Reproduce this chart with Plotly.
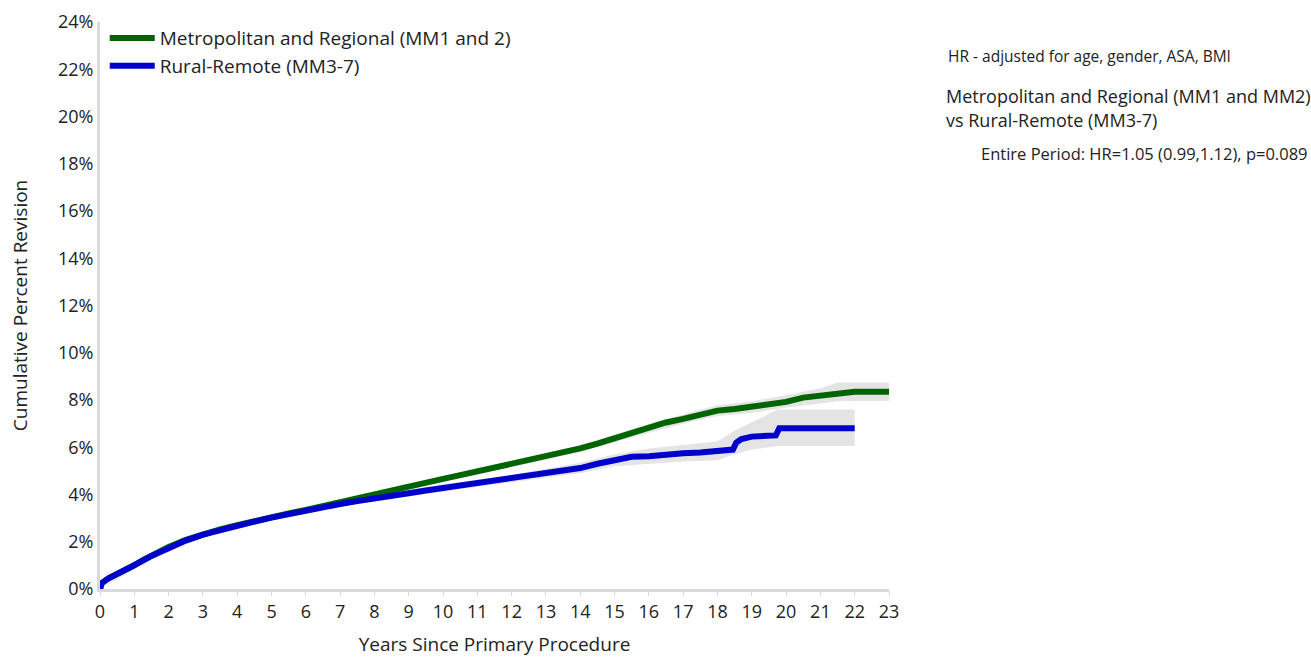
import plotly.graph_objects as go

# ---- data ----
metro_x = [0, 0.05, 0.25, 0.5, 0.75, 1, 1.25, 1.5, 2, 2.5, 3, 3.5, 4, 4.5, 5, 5.5, 6, 6.5, 7, 7.5,
           8, 8.5, 9, 9.5, 10, 10.5, 11, 11.5, 12, 12.5, 13, 13.5, 14, 14.5, 15, 15.5, 16, 16.5,
           17, 17.5, 18, 18.5, 19, 19.5, 20, 20.5, 21, 21.5, 22, 23]
metro_y = [0, 0.25, 0.45, 0.62, 0.8, 1.0, 1.22, 1.42, 1.78, 2.08, 2.33, 2.52, 2.7, 2.88, 3.05, 3.2,
           3.35, 3.52, 3.7, 3.85, 4.02, 4.18, 4.35, 4.5, 4.66, 4.82, 4.98, 5.13, 5.28, 5.44, 5.62,
           5.78, 5.95, 6.15, 6.38, 6.58, 6.8, 7.05, 7.2, 7.38, 7.55, 7.62, 7.7, 7.8, 7.92, 8.1, 8.18,
           8.3, 8.35, 8.35]

rural_x = [0, 0.05, 0.25, 0.5, 0.75, 1, 1.25, 1.5, 2, 2.5, 3, 3.5, 4, 4.5, 5, 5.5, 6, 6.5, 7, 7.5,
           8, 8.5, 9, 9.5, 10, 10.5, 11, 11.5, 12, 12.5, 13, 13.5, 14, 14.5, 15, 15.5, 16, 16.5,
           17, 17.5, 18, 18.45, 18.55, 18.7, 19.0, 19.7, 19.8, 22]
rural_y = [0, 0.25, 0.45, 0.62, 0.8, 0.98, 1.2, 1.4, 1.75, 2.05, 2.3, 2.5, 2.67, 2.85, 3.02, 3.18,
           3.32, 3.47, 3.6, 3.72, 3.85, 3.95, 4.05, 4.17, 4.28, 4.37, 4.48, 4.57, 4.68, 4.8, 4.9,
           5.0, 5.12, 5.3, 5.45, 5.6, 5.62, 5.7, 5.75, 5.78, 5.82, 5.9, 6.2, 6.35, 6.45, 6.5, 6.8, 6.8]

metro_ci_x = [0, 2, 4, 6, 8, 10, 12, 14, 15, 16, 17, 18, 19, 20, 21, 21.5, 22, 23]
metro_ci_lo = [0, 1.72, 2.64, 3.28, 3.94, 4.57, 5.17, 5.8, 6.22, 6.62, 7.0, 7.32, 7.45, 7.68, 7.85, 7.95, 7.97, 7.97]
metro_ci_hi = [0, 1.84, 2.76, 3.42, 4.1, 4.75, 5.4, 6.1, 6.55, 6.98, 7.4, 7.78, 7.95, 8.2, 8.5, 8.74, 8.74, 8.74]

rural_ci_x = [0, 2, 4, 6, 8, 10, 12, 14, 15, 16, 17, 18, 18.5, 19, 19.75, 22]
rural_ci_lo = [0, 1.68, 2.6, 3.24, 3.74, 4.14, 4.52, 4.9, 5.2, 5.3, 5.4, 5.45, 5.7, 5.9, 6.05, 6.05]
rural_ci_hi = [0, 1.82, 2.74, 3.4, 3.96, 4.42, 4.84, 5.34, 5.7, 5.95, 6.1, 6.25, 6.7, 7.05, 7.6, 7.6]

series_names = ["Metropolitan and Regional (MM1 and 2)", "Rural-Remote (MM3-7)"]
y_ticks = list(range(0, 25, 2))
y_tick_text = [f"{v}%" for v in y_ticks]
x_ticks = list(range(0, 24))

GREEN = "#006400"
BLUE = "#0000CD"
BAND = "rgba(205,205,205,0.55)"
AXIS = "#d9d9d9"
FONT = "Open Sans"
TXT = "#222222"

fig = go.Figure()

for cx, lo, hi in [(metro_ci_x, metro_ci_lo, metro_ci_hi), (rural_ci_x, rural_ci_lo, rural_ci_hi)]:
    fig.add_trace(go.Scatter(x=cx + cx[::-1], y=hi + lo[::-1], fill="toself", fillcolor=BAND,
                             line=dict(width=0), mode="lines", hoverinfo="skip", showlegend=False))

fig.add_trace(go.Scatter(x=metro_x, y=metro_y, mode="lines", name=series_names[0],
                         line=dict(color=GREEN, width=6)))
fig.add_trace(go.Scatter(x=rural_x, y=rural_y, mode="lines", name=series_names[1],
                         line=dict(color=BLUE, width=6)))

fig.update_layout(
    width=1311, height=657,
    margin=dict(l=100, r=422, t=22, b=68, autoexpand=False),
    paper_bgcolor="white", plot_bgcolor="white",
    font=dict(family=FONT, size=18, color=TXT),
    showlegend=True,
    legend=dict(x=0.006, y=1.005, xanchor="left", yanchor="top", bgcolor="rgba(0,0,0,0)",
                font=dict(size=19, color=TXT), tracegroupgap=0, itemwidth=45),
    xaxis=dict(range=[0, 23], tickvals=x_ticks, showgrid=False, zeroline=False, automargin=False,
               showline=True, linecolor=AXIS, linewidth=3, ticks="outside", tickcolor=AXIS,
               ticklen=4, tickwidth=1, tickfont=dict(size=18, color=TXT),
               title=dict(text="Years Since Primary Procedure", font=dict(size=19, color=TXT), standoff=23)),
    yaxis=dict(range=[0, 24], tickvals=y_ticks, ticktext=y_tick_text, showgrid=False, zeroline=False,
               automargin=False, showline=True, linecolor=AXIS, linewidth=3, ticks="",
               tickfont=dict(size=18, color=TXT),
               title=dict(text="Cumulative Percent Revision", font=dict(size=19, color=TXT), standoff=26)),
)

def px(xp):
    return (xp - 100) / 789.0

def py(yp):
    return (589 - yp) / 567.0

notes = [
    ("HR - adjusted for age, gender, ASA, BMI", 946, 56, 15.5),
    ("Metropolitan and Regional (MM1 and MM2)", 944, 96, 18),
    ("vs Rural-Remote (MM3-7)", 944, 120, 18),
    ("Entire Period: HR=1.05 (0.99,1.12), p=0.089", 979, 153, 16.5),
]
for text, xp, yp, sz in notes:
    fig.add_annotation(text=text, xref="paper", yref="paper", x=px(xp), y=py(yp),
                       xanchor="left", yanchor="middle", showarrow=False,
                       font=dict(size=sz, color=TXT, family=FONT))

fig.write_html("out.html", config={"displayModeBar": False},
               post_script="document.body.style.margin='0px';document.body.style.overflow='hidden';")
